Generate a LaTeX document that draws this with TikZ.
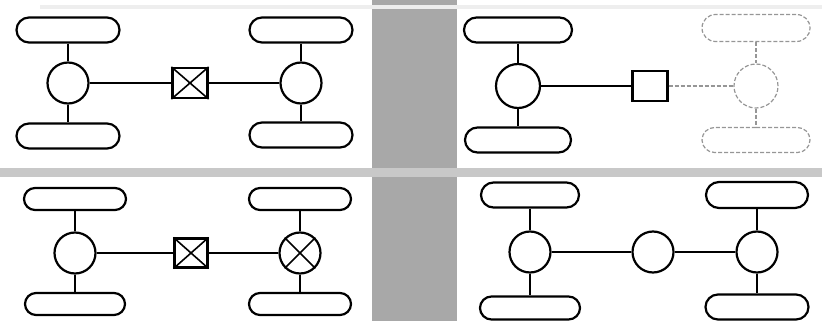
\documentclass[tikz,border=0pt]{standalone}
\usetikzlibrary{positioning,shapes.misc}
\definecolor{stripgray}{RGB}{168,168,168}
\definecolor{bandgray}{RGB}{200,200,200}
\definecolor{ghostgray}{RGB}{150,150,150}

\begin{document}
\begin{tikzpicture}[x=1pt,y=-1pt,line width=1.6pt,
    pill/.style={draw,line width=2.2pt,rounded rectangle,minimum width=103pt,minimum height=25pt,inner sep=0pt},
    ring/.style={draw,line width=2.2pt,circle,minimum size=41pt,inner sep=0pt},
    sqbox/.style={draw,line width=2.2pt,minimum width=35pt,minimum height=30pt,inner sep=0pt},
    ghost/.style={draw=ghostgray,line width=1.2pt,dash pattern=on 4pt off 2pt}]
  \useasboundingbox (0,0) rectangle (822,321);
  % scanned background
  \fill[stripgray] (372,0) rectangle (457,321);
  \fill[bandgray] (0,168) rectangle (822,177);
  \fill[bandgray!30] (40,5) rectangle (822,9);

  % top left
  \node[pill] (tlpa) at (68,30) {};
  \node[ring] (tlca) at (68,83) {};
  \node[pill] (tlpb) at (68,136) {};
  \node[sqbox] (tlbox) at (190,83) {};
  \node[ring] (tlcb) at (301,83) {};
  \node[pill] (tlpc) at (301,30) {};
  \node[pill] (tlpd) at (301,135) {};
  \draw (tlpa)--(tlca) (tlca)--(tlpb);
  \draw (tlca)--(tlbox) (tlbox)--(tlcb);
  \draw (tlpc)--(tlcb) (tlcb)--(tlpd);
  \draw (tlbox.north west)--(tlbox.south east) (tlbox.north east)--(tlbox.south west);

  % top right
  \node[pill,minimum width=108pt] (trpa) at (518,30) {};
  \node[ring,minimum size=44pt] (trca) at (518,86) {};
  \node[pill,minimum width=106pt] (trpb) at (518,140) {};
  \node[sqbox] (trbox) at (650,86) {};
  \node[ring,ghost,minimum size=44pt] (trcb) at (756,86) {};
  \node[pill,ghost,minimum width=108pt,minimum height=27pt] (trpc) at (756,28) {};
  \node[pill,ghost,minimum width=108pt] (trpd) at (756,140) {};
  \draw (trpa)--(trca) (trca)--(trpb);
  \draw (trca)--(trbox);
  \draw[ghost] (trbox)--(trcb) (trpc)--(trcb) (trcb)--(trpd);

  % bottom left
  \node[pill,minimum width=102pt,minimum height=22pt] (blpa) at (75,199) {};
  \node[ring] (blca) at (75,253) {};
  \node[pill,minimum width=100pt,minimum height=22pt] (blpb) at (75,304) {};
  \node[sqbox,minimum width=33pt,minimum height=29pt] (blbox) at (191,253) {};
  \node[ring] (blcb) at (300,253) {};
  \node[pill,minimum width=102pt,minimum height=22pt] (blpc) at (300,199) {};
  \node[pill,minimum width=102pt,minimum height=22pt] (blpd) at (300,304) {};
  \draw (blpa)--(blca) (blca)--(blpb);
  \draw (blca)--(blbox) (blbox)--(blcb);
  \draw (blpc)--(blcb) (blcb)--(blpd);
  \draw (blbox.north west)--(blbox.south east) (blbox.north east)--(blbox.south west);
  \draw (blcb.north east)--(blcb.south west) (blcb.north west)--(blcb.south east);

  % bottom right
  \node[pill,minimum width=98pt] (brpa) at (530,195) {};
  \node[ring] (brca) at (530,252) {};
  \node[pill,minimum width=100pt,minimum height=23pt] (brpb) at (530,308) {};
  \node[ring] (brcb) at (653,252) {};
  \node[ring] (brcc) at (757,252) {};
  \node[pill,minimum width=102pt,minimum height=26pt] (brpc) at (757,195) {};
  \node[pill,minimum width=103pt] (brpd) at (757,307) {};
  \draw (brpa)--(brca) (brca)--(brpb);
  \draw (brca)--(brcb) (brcb)--(brcc);
  \draw (brpc)--(brcc) (brcc)--(brpd);
\end{tikzpicture}
\end{document}
